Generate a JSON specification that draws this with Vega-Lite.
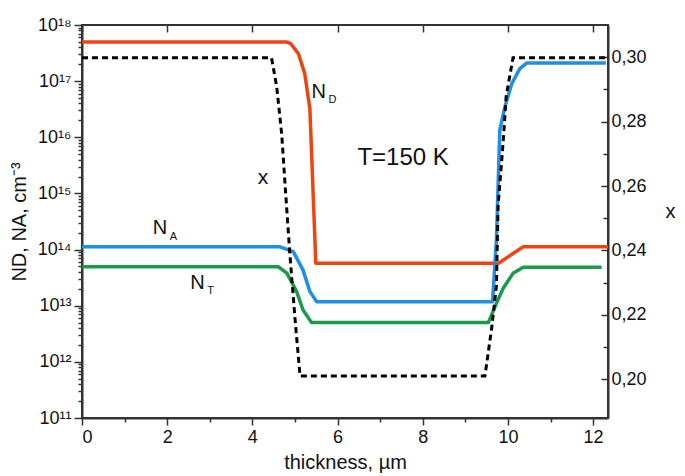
{
  "$schema": "https://vega.github.io/schema/vega-lite/v6.json",
  "width": 526,
  "height": 393,
  "autosize": "none",
  "padding": {"left": 82, "top": 25, "right": 77, "bottom": 58},
  "background": "white",
  "config": {
    "font": "Liberation Sans",
    "view": {"stroke": "#333", "strokeWidth": 2},
    "axis": {
      "grid": false,
      "domainColor": "#333",
      "domainWidth": 2,
      "tickColor": "#333",
      "tickWidth": 1.5,
      "labelColor": "#111",
      "titleColor": "#111",
      "labelFontSize": 18,
      "titleFontSize": 20,
      "titleFontWeight": "normal",
      "labelFont": "Liberation Sans",
      "titleFont": "Liberation Sans"
    }
  },
  "datasets": {
    "conc": [
      {"t": 0, "series": "ND", "v": 5e17},
      {"t": 4.8, "series": "ND", "v": 5e17},
      {"t": 4.9, "series": "ND", "v": 4.65e17},
      {"t": 5.08, "series": "ND", "v": 3.1e17},
      {"t": 5.23, "series": "ND", "v": 1.36e17},
      {"t": 5.35, "series": "ND", "v": 3.25e16},
      {"t": 5.49, "series": "ND", "v": 5.7e13},
      {"t": 9.78, "series": "ND", "v": 5.7e13},
      {"t": 10.36, "series": "ND", "v": 1.12e14},
      {"t": 12.35, "series": "ND", "v": 1.12e14},
      {"t": 0, "series": "NA", "v": 1.12e14},
      {"t": 4.65, "series": "NA", "v": 1.12e14},
      {"t": 4.96, "series": "NA", "v": 9.2e13},
      {"t": 5.19, "series": "NA", "v": 4.3e13},
      {"t": 5.35, "series": "NA", "v": 1.8e13},
      {"t": 5.51, "series": "NA", "v": 1.18e13},
      {"t": 9.64, "series": "NA", "v": 1.18e13},
      {"t": 9.73, "series": "NA", "v": 1.48e14},
      {"t": 9.81, "series": "NA", "v": 1.34e16},
      {"t": 9.93, "series": "NA", "v": 3.5e16},
      {"t": 10.09, "series": "NA", "v": 9.0e16},
      {"t": 10.28, "series": "NA", "v": 1.67e17},
      {"t": 10.44, "series": "NA", "v": 2.1e17},
      {"t": 12.3, "series": "NA", "v": 2.1e17},
      {"t": 0, "series": "NT", "v": 4.94e13},
      {"t": 4.61, "series": "NT", "v": 4.94e13},
      {"t": 4.81, "series": "NT", "v": 3.8e13},
      {"t": 5.04, "series": "NT", "v": 1.78e13},
      {"t": 5.19, "series": "NT", "v": 8.4e12},
      {"t": 5.39, "series": "NT", "v": 5.0e12},
      {"t": 9.54, "series": "NT", "v": 5.0e12},
      {"t": 9.73, "series": "NT", "v": 1.1e13},
      {"t": 9.89, "series": "NT", "v": 2.04e13},
      {"t": 10.12, "series": "NT", "v": 3.77e13},
      {"t": 10.36, "series": "NT", "v": 4.85e13},
      {"t": 12.2, "series": "NT", "v": 4.85e13}
    ],
    "xfrac": [
      {"t": 0, "x": 0.2998},
      {"t": 4.45, "x": 0.2998},
      {"t": 4.57, "x": 0.291},
      {"t": 4.69, "x": 0.276},
      {"t": 4.77, "x": 0.26},
      {"t": 4.88, "x": 0.239},
      {"t": 5.0, "x": 0.219},
      {"t": 5.12, "x": 0.201},
      {"t": 9.46, "x": 0.201},
      {"t": 9.62, "x": 0.216},
      {"t": 9.73, "x": 0.229},
      {"t": 9.77, "x": 0.254},
      {"t": 9.89, "x": 0.274},
      {"t": 9.96, "x": 0.288},
      {"t": 10.12, "x": 0.2998},
      {"t": 12.35, "x": 0.2998}
    ],
    "mainLabels": [
      {"t": 5.39, "v": 6.47e16, "txt": "N"},
      {"t": 1.66, "v": 2.41e14, "txt": "N"},
      {"t": 2.54, "v": 2.53e13, "txt": "N"}
    ],
    "subLabels": [
      {"t": 5.79, "v": 4.6e16, "txt": "D"},
      {"t": 2.06, "v": 1.7e14, "txt": "A"},
      {"t": 2.94, "v": 1.8e13, "txt": "T"}
    ],
    "centerLabels": [
      {"t": 4.25, "v": 1.87e15, "txt": "x"}
    ],
    "tempLabel": [
      {"t": 7.54, "v": 4.25e15, "txt": "T=150 K"}
    ]
  },
  "layer": [
    {
      "layer": [
        {
          "data": {"name": "conc"},
          "mark": {"type": "line", "strokeWidth": 3.5, "strokeJoin": "round"},
          "encoding": {
            "x": {
              "field": "t", "type": "quantitative",
              "scale": {"domain": [0, 12.35], "nice": false, "zero": false},
              "axis": {
                "orient": "bottom",
                "title": "thickness, µm",
                "values": [0, 1, 2, 3, 4, 5, 6, 7, 8, 9, 10, 11, 12],
                "format": "d",
                "labelExpr": "datum.value % 2 == 0 ? datum.label : ''",
                "tickSize": {"condition": {"test": "datum.value % 2 == 0", "value": 7}, "value": 4},
                "labelPadding": 3,
                "titlePadding": 6
              }
            },
            "y": {
              "field": "v", "type": "quantitative",
              "scale": {"type": "log", "domain": [1e11, 1e18], "nice": false},
              "axis": {
                "orient": "left",
                "title": "ND, NA, cm⁻³",
                "values": [1e11, 2e11, 3e11, 4e11, 5e11, 6e11, 7e11, 8e11, 9e11,
                           1e12, 2e12, 3e12, 4e12, 5e12, 6e12, 7e12, 8e12, 9e12,
                           1e13, 2e13, 3e13, 4e13, 5e13, 6e13, 7e13, 8e13, 9e13,
                           1e14, 2e14, 3e14, 4e14, 5e14, 6e14, 7e14, 8e14, 9e14,
                           1e15, 2e15, 3e15, 4e15, 5e15, 6e15, 7e15, 8e15, 9e15,
                           1e16, 2e16, 3e16, 4e16, 5e16, 6e16, 7e16, 8e16, 9e16,
                           1e17, 2e17, 3e17, 4e17, 5e17, 6e17, 7e17, 8e17, 9e17, 1e18],
                "labelExpr": "abs(log(datum.value)/LN10 - round(log(datum.value)/LN10)) < 0.001 ? '10' + ['¹¹','¹²','¹³','¹⁴','¹⁵','¹⁶','¹⁷','¹⁸'][round(log(datum.value)/LN10) - 11] : ''",
                "tickSize": {"condition": {"test": "abs(log(datum.value)/LN10 - round(log(datum.value)/LN10)) < 0.001", "value": 8}, "value": 4},
                "labelPadding": 3,
                "labelOverlap": false,
                "titlePadding": 8
              }
            },
            "color": {
              "field": "series", "type": "nominal",
              "scale": {"domain": ["ND", "NA", "NT"], "range": ["#EE4411", "#1E8FE1", "#1B9A4B"]},
              "legend": null
            }
          }
        },
        {
          "data": {"name": "mainLabels"},
          "mark": {"type": "text", "fontSize": 20, "align": "left", "baseline": "middle", "color": "#111", "font": "Liberation Sans"},
          "encoding": {
            "x": {"field": "t", "type": "quantitative"},
            "y": {"field": "v", "type": "quantitative"},
            "text": {"field": "txt"}
          }
        },
        {
          "data": {"name": "subLabels"},
          "mark": {"type": "text", "fontSize": 11, "align": "left", "baseline": "middle", "color": "#111", "font": "Liberation Sans"},
          "encoding": {
            "x": {"field": "t", "type": "quantitative"},
            "y": {"field": "v", "type": "quantitative"},
            "text": {"field": "txt"}
          }
        },
        {
          "data": {"name": "centerLabels"},
          "mark": {"type": "text", "fontSize": 21, "align": "center", "baseline": "middle", "color": "#111", "font": "Liberation Sans"},
          "encoding": {
            "x": {"field": "t", "type": "quantitative"},
            "y": {"field": "v", "type": "quantitative"},
            "text": {"field": "txt"}
          }
        },
        {
          "data": {"name": "tempLabel"},
          "mark": {"type": "text", "fontSize": 24, "align": "center", "baseline": "middle", "color": "#111", "font": "Liberation Sans"},
          "encoding": {
            "x": {"field": "t", "type": "quantitative"},
            "y": {"field": "v", "type": "quantitative"},
            "text": {"field": "txt"}
          }
        }
      ]
    },
    {
      "data": {"name": "xfrac"},
      "mark": {"type": "line", "color": "#000", "strokeWidth": 3, "strokeDash": [6, 4]},
      "encoding": {
        "x": {
          "field": "t", "type": "quantitative",
          "axis": {
            "orient": "top",
            "title": null,
            "labels": false,
            "values": [0, 2, 4, 6, 8, 10, 12],
            "tickSize": -7,
            "domain": false
          }
        },
        "y": {
          "field": "x", "type": "quantitative",
          "scale": {"domain": [0.188, 0.31], "nice": false, "zero": false},
          "axis": {
            "orient": "right",
            "title": "x",
            "titleAngle": 0,
            "titlePadding": 24,
            "values": [0.2, 0.21, 0.22, 0.23, 0.24, 0.25, 0.26, 0.27, 0.28, 0.29, 0.3],
            "labelExpr": "round(datum.value*100) % 2 == 0 ? replace(format(datum.value, '.2f'), '.', ',') : ''",
            "tickSize": {"condition": {"test": "round(datum.value*100) % 2 == 0", "value": -7}, "value": -5},
            "labelPadding": 10
          }
        }
      }
    }
  ],
  "resolve": {"scale": {"y": "independent"}, "axis": {"x": "independent"}}
}
